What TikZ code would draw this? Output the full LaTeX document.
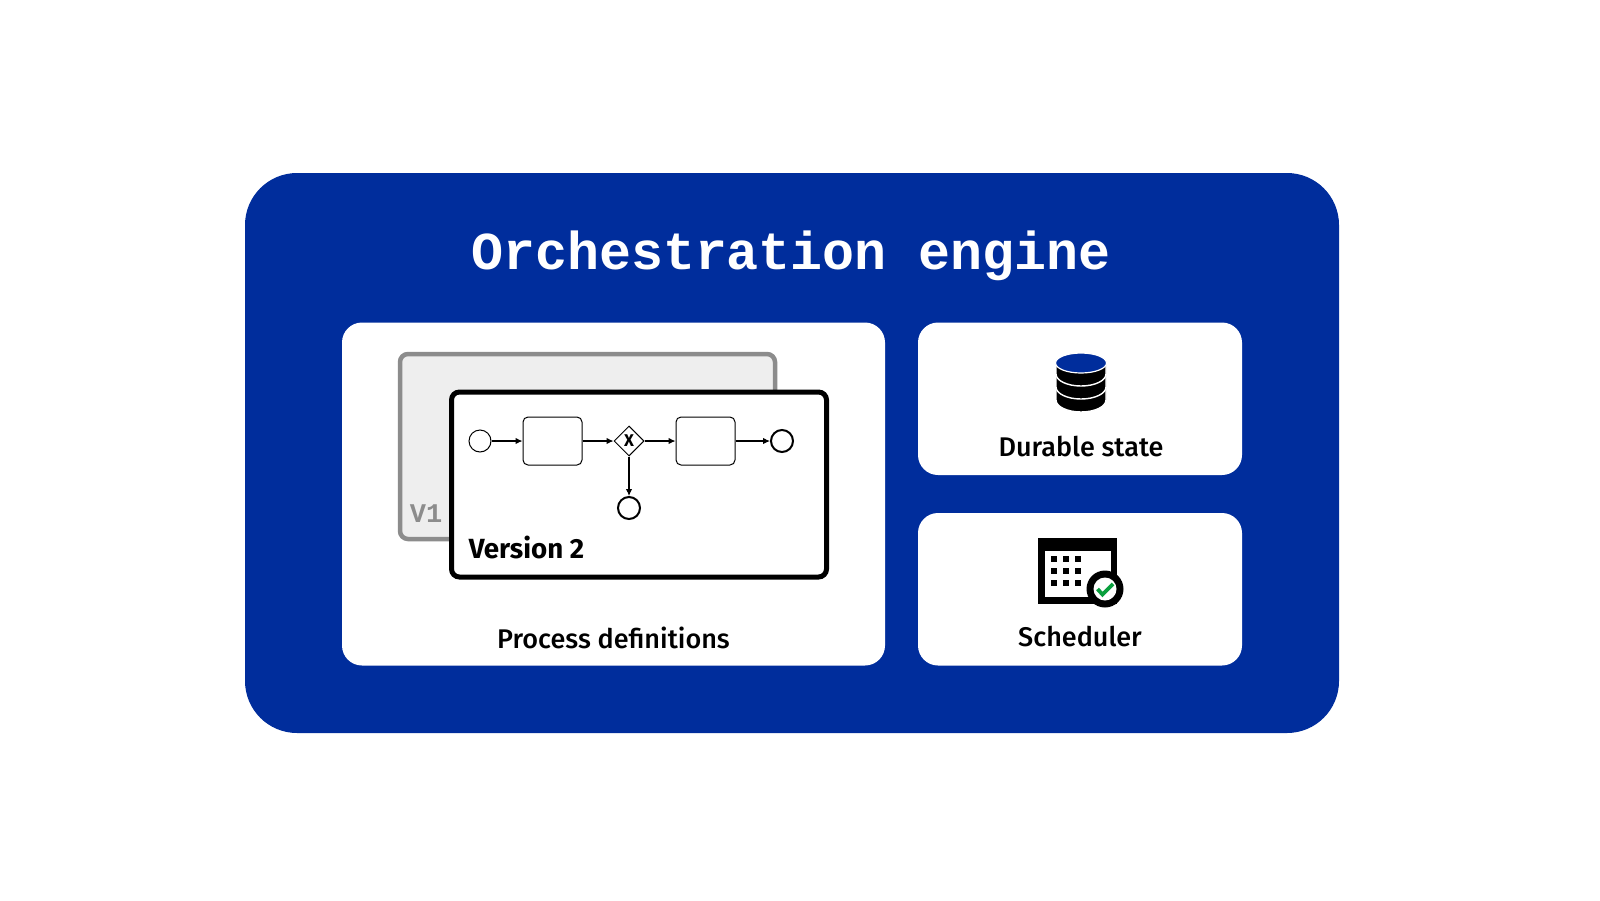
\documentclass[tikz,border=0pt]{standalone}
\usepackage{fontspec}
\setmainfont{Fira Sans}
\newfontfamily\medfont{Fira Sans Medium}
\newfontfamily\codebold{Liberation Mono Bold}
\usetikzlibrary{positioning,shapes,arrows.meta}
\definecolor{engineblue}{HTML}{002D9C}
\definecolor{checkgreen}{HTML}{0A9F3E}
\definecolor{oldgray}{HTML}{8C8C8C}

\begin{document}
\begin{tikzpicture}[x=1pt,y=1pt]
    \tikzstyle{engine}=[draw=none,fill=engineblue,rectangle,rounded corners=52,minimum width=1094,minimum height=560,inner sep=0]
    \tikzstyle{panel}=[draw=none,fill=white,rectangle,rounded corners=20,inner sep=0]
    \tikzstyle{version}=[rectangle,rounded corners=8,inner sep=0,fill=white]
    \tikzstyle{task}=[draw=black,line width=1,rectangle,rounded corners=5,fill=white,minimum width=59,minimum height=48,inner sep=0]
    \tikzstyle{start}=[draw=black,line width=1,circle,fill=white,minimum size=22,inner sep=0]
    \tikzstyle{stop}=[start,line width=2]
    \tikzstyle{gateway}=[draw=black,line width=1,diamond,fill=white,minimum size=30,inner sep=0]
    \tikzstyle{flow}=[line width=1.1,-{Latex[length=7,width=6.5]}]
    \tikzstyle{label}=[inner sep=0,font=\medfont\fontsize{27}{27}\selectfont]
    \useasboundingbox (0,0) rectangle (1600,-900);

    \node[engine] (engine) at (792,-453) {};
    \node[inner sep=0,text=white,font=\codebold\fontsize{53.3}{53.3}\selectfont] (title) at (791,-256) {Orchestration engine};

    \node[panel,minimum width=543,minimum height=343] (process) at (613.5,-494) {};
    \node[panel,minimum width=324,minimum height=152.5] (durable) at (1080,-398.75) {};
    \node[panel,minimum width=324,minimum height=152.5] (scheduler) at (1080,-589.25) {};

    % versions
    \node[version,draw=oldgray,fill=oldgray!15,line width=4.5,minimum width=375,minimum height=185] (v1) at (587.5,-446.5) {};
    \node[inner sep=0,text=oldgray,font=\codebold\fontsize{27}{27}\selectfont] (v1label) at (426,-514) {V1};
    \node[version,draw=black,line width=5,minimum width=375,minimum height=185] (v2) at (639,-484.5) {};
    \node[inner sep=0,font=\bfseries\fontsize{27.7}{27.7}\selectfont] (v2label) at (526.5,-547) {Version 2};

    % process
    \node[start] (begin) at (480,-441) {};
    \node[task] (task1) at (552.5,-441) {};
    \node[gateway] (choice) at (629,-441) {\bfseries\fontsize{17}{17}\selectfont X};
    \node[task] (task2) at (705.5,-441) {};
    \node[stop] (end1) at (782,-441) {};
    \node[stop] (end2) at (629,-508) {};
    \draw[flow] (begin) -- (task1);
    \draw[flow] (task1) -- (choice);
    \draw[flow] (choice) -- (task2);
    \draw[flow] (task2) -- (end1);
    \draw[flow] (choice) -- (end2);

    % database
    \foreach \y in {400,387,374} {
        \fill[black,draw=white,line width=1.4] (1056,-\y) arc[start angle=180,end angle=360,x radius=25,y radius=12] -- (1106,-\y+12) -- (1056,-\y+12) -- cycle;
    }
    \fill[engineblue,draw=white,line width=1.2] (1081,-363) ellipse[x radius=25.5,y radius=10];

    % calendar
    \fill[black] (1038,-538) rectangle (1117,-604);
    \fill[white] (1045,-551) rectangle (1111,-597);
    \foreach \x in {1054,1066,1078} {
        \foreach \y in {559,571,583} {
            \fill[black] (\x-3,-\y-3) rectangle (\x+3,-\y+3);
        }
    }
    \fill[black] (1105,-589) circle (18.5);
    \fill[white] (1105,-589) circle (11.5);
    \draw[checkgreen,line width=3.8] (1097.5,-589) -- (1102.5,-594.5) -- (1113,-584);

    \node[label] (processlabel) at (613.5,-638) {Process definitions};
    \node[label] (durablelabel) at (1081,-447) {Durable state};
    \node[label] (schedulerlabel) at (1080,-636) {Scheduler};
\end{tikzpicture}
\end{document}
